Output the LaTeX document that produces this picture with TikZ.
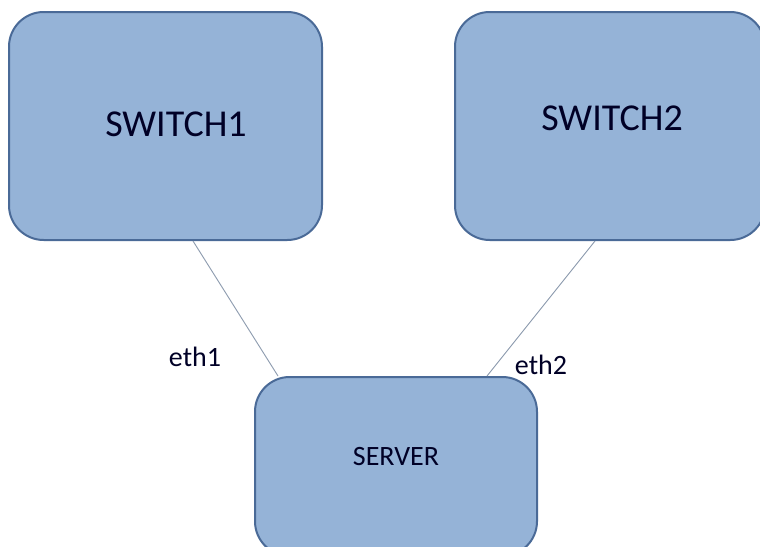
\documentclass[tikz,border=0pt]{standalone}
\usepackage{fontspec}
\setmainfont{Carlito}
\definecolor{boxfill}{HTML}{95B3D7}
\definecolor{boxline}{HTML}{4A6A97}
\definecolor{wire}{HTML}{8F9DB0}
\begin{document}
\begin{tikzpicture}[x=0.75pt,y=-0.75pt,
  box/.style={draw=boxline,fill=boxfill,line width=1.5pt,rounded corners=26pt,inner sep=0pt},
  big/.style={font=\fontsize{28.5}{30}\selectfont,text=black!85!blue},
  small/.style={font=\fontsize{21}{23}\selectfont,text=black!85!blue},
  wireline/.style={draw=wire,line width=0.7pt}]
\useasboundingbox (0,0) rectangle (760,546);
\begin{scope}
\clip (0,0) rectangle (760,546);
\node[box,minimum width=313*0.75pt,minimum height=228*0.75pt,
  label={[big,xshift=10.5*0.75pt,yshift=2*0.75pt]center:SWITCH1}] (sw1) at (165.5,126) {};
\node[box,minimum width=310*0.75pt,minimum height=228*0.75pt,
  label={[big,xshift=2*0.75pt,yshift=8*0.75pt]center:SWITCH2}] (sw2) at (610,126) {};
\node[box,minimum width=282*0.75pt,minimum height=179*0.75pt,
  label={[small,yshift=9.5*0.75pt]center:SERVER}] (srv) at (396,466.5) {};
\end{scope}
\draw[wireline] ([xshift=27.5*0.75pt]sw1.south) -- ([xshift=-118*0.75pt]srv.north);
\draw[wireline] ([xshift=-15*0.75pt]sw2.south) -- ([xshift=91*0.75pt]srv.north);
\node[small] (e1) at (195,357) {eth1};
\node[small] (e2) at (541,365) {eth2};
\end{tikzpicture}
\end{document}
